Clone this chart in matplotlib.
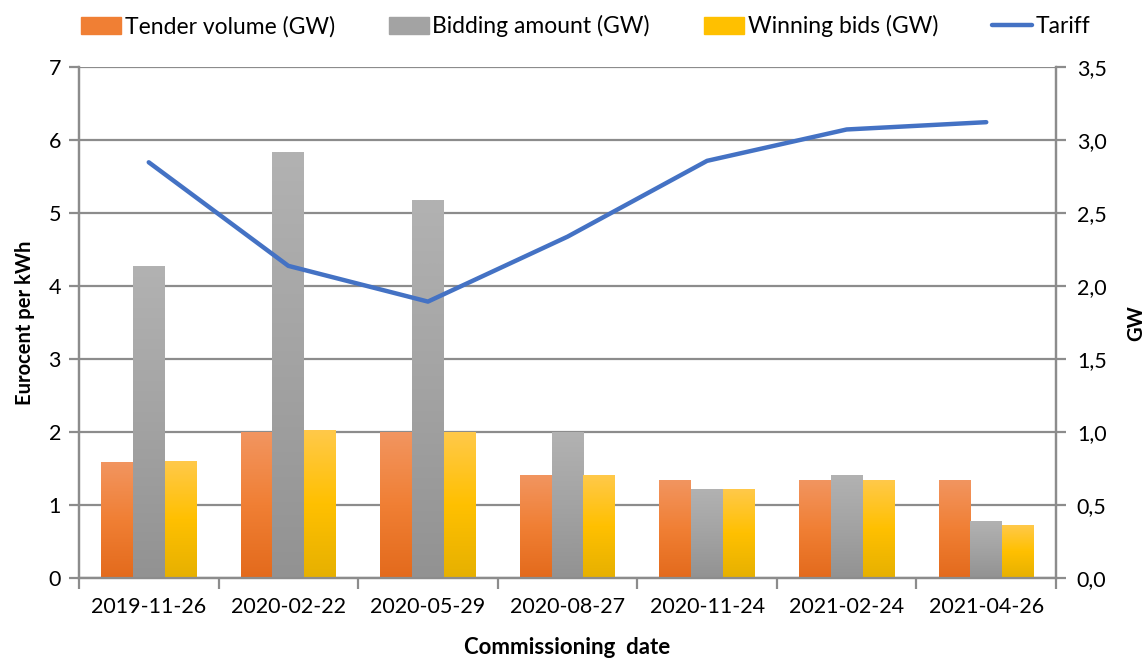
import numpy as np
import matplotlib
matplotlib.use("Agg")
import matplotlib.pyplot as plt
from matplotlib.patches import Patch
from matplotlib.lines import Line2D
from matplotlib.colors import LinearSegmentedColormap

plt.rcParams['font.family'] = ['Lato', 'DejaVu Sans']

# data
dates = ["2019-11-26", "2020-02-22", "2020-05-29", "2020-08-27",
         "2020-11-24", "2021-02-24", "2021-04-26"]
tender_gw = [0.79, 1.0, 1.0, 0.70, 0.665, 0.665, 0.665]
bidding_gw = [2.135, 2.92, 2.59, 1.0, 0.61, 0.705, 0.385]
winning_gw = [0.80, 1.01, 0.995, 0.705, 0.61, 0.665, 0.357]
tariff = [5.70, 4.28, 3.79, 4.68, 5.72, 6.15, 6.25]

series = [
    ("Tender volume (GW)", tender_gw, ["#F29560", "#F07F34", "#E36A1C"]),
    ("Bidding amount (GW)", bidding_gw, ["#B2B2B2", "#A3A3A3", "#929292"]),
    ("Winning bids (GW)", winning_gw, ["#FFC94A", "#FFC000", "#E6B000"]),
]

grid_col = "#8c8c8c"

fig = plt.figure(figsize=(11.46, 6.59), dpi=100)
ax = fig.add_axes([0.0689, 0.1229, 0.8526, 0.7747])
ax2 = ax.twinx()
# line axis on top of the bars
ax.set_zorder(2)
ax2.set_zorder(1)
ax.patch.set_visible(False)

x = np.arange(len(dates))

# tariff line on left axis
ax.plot(x, tariff, color="#4472C4", lw=3.2, solid_capstyle="round", zorder=3)
ax.set_ylim(0, 7)
ax.set_yticks(range(0, 8))

# bars with vertical gradient on right axis
bw = 0.228
grad = np.linspace(0, 1, 256).reshape(-1, 1)
for i, (name, vals, cols) in enumerate(series):
    cmap = LinearSegmentedColormap.from_list(name, cols[::-1])
    off = (i - 1) * bw
    for xi, v in zip(x, vals):
        ax2.imshow(grad, cmap=cmap, origin="lower", aspect="auto",
                   extent=(xi + off - bw / 2, xi + off + bw / 2, 0, v),
                   interpolation="bilinear", zorder=3)

ax2.set_xlim(-0.5, len(dates) - 0.5)
ax2.set_ylim(0, 3.5)
gw_ticks = np.arange(0, 3.51, 0.5)
ax2.set_yticks(gw_ticks)
ax2.set_yticklabels([f"{t:.1f}".replace(".", ",") for t in gw_ticks])
ax2.yaxis.grid(True, color=grid_col, lw=1.6)
ax2.set_axisbelow(True)
ax.set_xlim(-0.5, len(dates) - 0.5)

# x ticks at category boundaries, labels centered
ax.set_xticks(np.arange(-0.5, len(dates)), minor=False)
ax.set_xticklabels([])
ax.set_xticks(x, minor=True)
ax.set_xticklabels(dates, minor=True)
ax.tick_params(axis="x", which="major", length=8, width=1.6, color=grid_col)
ax.tick_params(axis="x", which="minor", length=0, pad=14, labelsize=15.5)
ax.tick_params(axis="y", length=7, width=1.6, color=grid_col, labelsize=15.5, pad=6)
ax2.tick_params(axis="y", length=7, width=1.6, color=grid_col, labelsize=15.5, pad=8)

for a in (ax, ax2):
    a.spines["top"].set_visible(False)
    for s in ("left", "right", "bottom"):
        a.spines[s].set_color(grid_col)
        a.spines[s].set_linewidth(1.6)

ax.set_ylabel("Eurocent per kWh", fontsize=14.5, fontweight="bold", labelpad=10)
ax2.set_ylabel("GW", fontsize=14.5, fontweight="bold", labelpad=14)
ax.set_xlabel("Commissioning  date", fontsize=16, fontweight="bold", labelpad=14)

handles = [Patch(color=c[1]) for _, _, c in series]
handles.append(Line2D([0], [0], color="#4472C4", lw=3.2, solid_capstyle="round"))
labels = [s[0] for s in series] + ["Tariff"]
fig.legend(handles, labels, loc="upper center", bbox_to_anchor=(0.511, 1.008),
           ncol=4, frameon=False, fontsize=16.5, handlelength=1.74,
           handleheight=0.78, handletextpad=0.17, columnspacing=2.35)

fig.savefig("out.png", dpi=100)
